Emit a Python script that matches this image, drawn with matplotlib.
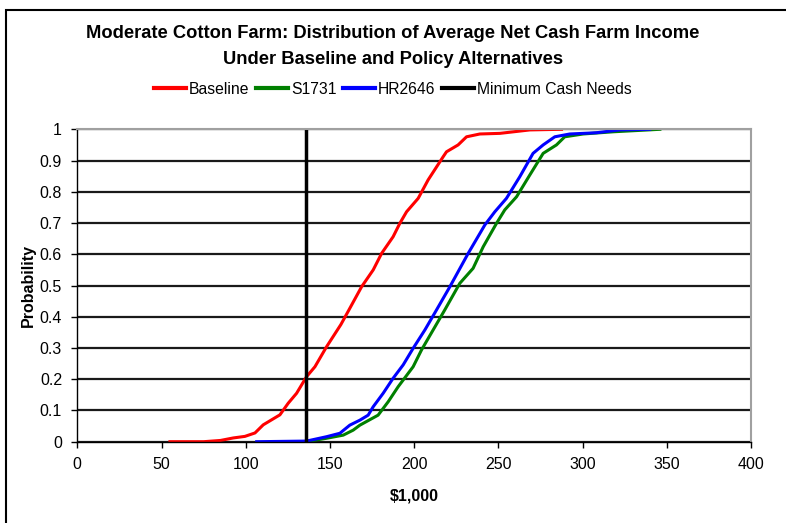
import numpy as np
import matplotlib.pyplot as plt
from matplotlib.lines import Line2D

plt.rcParams['font.family'] = ['Liberation Sans', 'DejaVu Sans']

# CDF points, income in $1,000
base_x = [55, 75, 85, 92.6, 99.5, 105.5, 110.4, 120.3, 125.2, 130.2, 136.1, 141.1, 148,
          156.5, 161.8, 168.8, 175.7, 180.7, 187.5, 191.5, 195.5, 202.4, 208.3, 217.2,
          219.2, 226.1, 231.1, 239, 250.9, 268.7, 287.5]
base_y = [0, 0, 0.004, 0.012, 0.017, 0.028, 0.054, 0.086, 0.123, 0.155, 0.208, 0.24, 0.304,
          0.375, 0.427, 0.496, 0.55, 0.603, 0.656, 0.699, 0.736, 0.779, 0.838, 0.912,
          0.928, 0.95, 0.976, 0.985, 0.987, 0.998, 1.0]

s1731_x = [136, 148, 157.9, 163.8, 167.8, 178.6, 184.6, 190.5, 199.4, 204.4, 211.3, 218.2,
           227.1, 235, 241, 248.9, 253.8, 260.8, 268.7, 276.6, 284.5, 289.4, 300.3, 318.1, 345.9]
s1731_y = [0, 0.011, 0.021, 0.037, 0.053, 0.085, 0.128, 0.176, 0.24, 0.294, 0.358, 0.422,
           0.507, 0.555, 0.624, 0.699, 0.742, 0.784, 0.854, 0.923, 0.95, 0.976, 0.985, 0.992, 1.0]

hr2646_x = [106.5, 136.1, 148, 155.9, 161.8, 167.8, 172.7, 175.7, 181.6, 187.5, 193.5, 199.4,
            206.4, 213.3, 221.2, 232.1, 242, 247.9, 254.8, 262.7, 270.6, 276.6, 283.5, 292.4,
            308.2, 322.1, 339.9]
hr2646_y = [0, 0.002, 0.016, 0.027, 0.053, 0.069, 0.085, 0.112, 0.155, 0.203, 0.246, 0.299,
            0.358, 0.422, 0.496, 0.603, 0.694, 0.736, 0.779, 0.848, 0.923, 0.95, 0.976, 0.985,
            0.989, 0.998, 1.0]

min_cash = 136

fig = plt.figure(figsize=(7.86, 5.23), dpi=100)

# chart frame (only top/left edges fall inside the image)
fig.add_artist(plt.Rectangle((6 / 786, -0.1), 1.2, (523 - 10) / 523 + 0.1,
                             transform=fig.transFigure, fill=False,
                             edgecolor='black', linewidth=1.5))

ax = fig.add_axes([77.3 / 786, (523 - 441.7) / 523, (751 - 77.3) / 786, (441.7 - 129.3) / 523])

ax.set_xlim(0, 400)
ax.set_ylim(0, 1)
ax.set_xticks(np.arange(0, 401, 50))
ax.set_yticks(np.round(np.arange(0, 1.01, 0.1), 1))
ax.set_yticklabels(['0'] + ['%.1f' % v for v in np.arange(0.1, 0.95, 0.1)] + ['1'])
ax.yaxis.grid(True, color='#1a1a1a', linewidth=1.6)
ax.set_axisbelow(True)

for side in ['top', 'right']:
    ax.spines[side].set_color('#a0a0a0')
    ax.spines[side].set_linewidth(1.5)
for side in ['left', 'bottom']:
    ax.spines[side].set_color('black')
    ax.spines[side].set_linewidth(1.0)
ax.tick_params(direction='out', length=4, width=1, labelsize=11.5, pad=7)

ax.plot(base_x, base_y, color='#ff0000', linewidth=2.2, solid_joinstyle='round')
ax.plot(s1731_x, s1731_y, color='#008000', linewidth=2.2, solid_joinstyle='round')
ax.plot(hr2646_x, hr2646_y, color='#0000ff', linewidth=2.2, solid_joinstyle='round')
ax.plot([min_cash, min_cash], [0, 1], color='black', linewidth=2.5)

ax.set_xlabel('$1,000', fontsize=11.5, fontweight='bold', labelpad=12)
ax.set_ylabel('Probability', fontsize=11.5, fontweight='bold', labelpad=3)

fig.text(0.5, 1 - 34 / 523, 'Moderate Cotton Farm: Distribution of Average Net Cash Farm Income',
         ha='center', va='center', fontsize=13.2, fontweight='bold')
fig.text(0.5, 1 - 60 / 523, 'Under Baseline and Policy Alternatives',
         ha='center', va='center', fontsize=13.2, fontweight='bold')

handles = [Line2D([], [], color='#ff0000', linewidth=3),
           Line2D([], [], color='#008000', linewidth=3),
           Line2D([], [], color='#0000ff', linewidth=3),
           Line2D([], [], color='black', linewidth=3)]
fig.legend(handles, ['Baseline', 'S1731', 'HR2646', 'Minimum Cash Needs'],
           loc='center', bbox_to_anchor=(0.5, 1 - 89 / 523), ncol=4, frameon=False,
           fontsize=11.3, handlelength=2.0, handletextpad=0.2, columnspacing=0.45)

fig.savefig('out.png', dpi=100)
